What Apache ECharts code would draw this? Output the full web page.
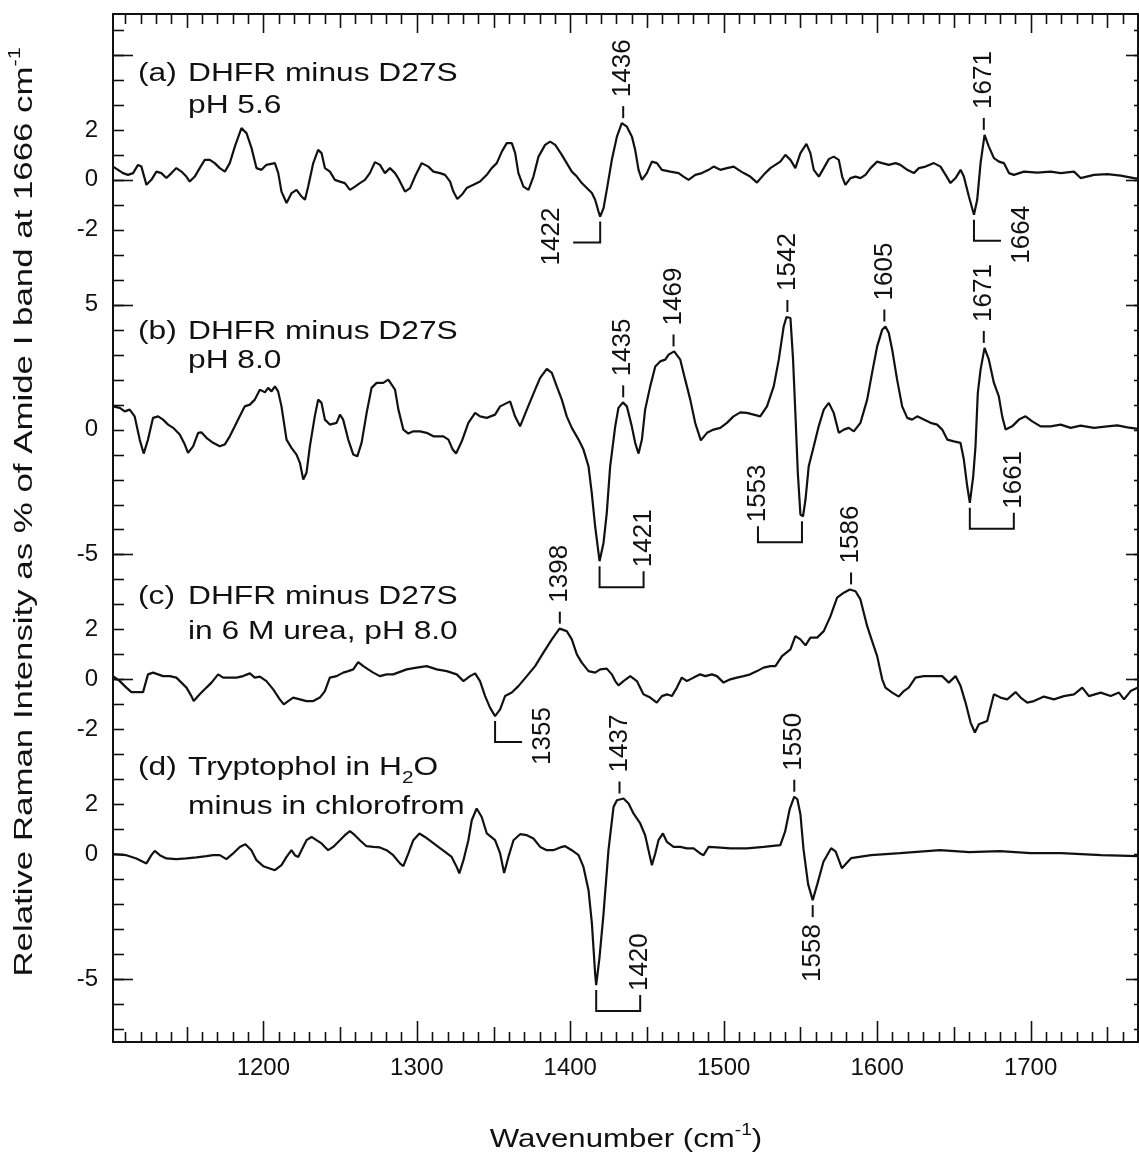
<!DOCTYPE html>
<html>
<head>
<meta charset="utf-8">
<script src="https://cdn.jsdelivr.net/npm/echarts@6/dist/echarts.min.js"></script>
<style>
  html, body { margin: 0; padding: 0; background: #fff; }
  #chart { width: 1139px; height: 1157px; }
</style>
</head>
<body>
<div id="chart"></div>
<script>
// difference spectra, [wavenumber, relative intensity]
const traceA = [
  [1102,0.53],[1105.3,0.4],[1108.5,0.27],[1111.8,0.2],[1115.1,0.27],[1118.3,0.6],[1120.5,0.53],[1123.8,-0.2],
  [1127,0],[1130.3,0.33],[1133.5,0.27],[1136.8,0.07],[1140.1,0.27],[1143.3,0.47],[1146.6,0.33],[1149.8,0.13],
  [1152,-0.07],[1155.3,0.13],[1158.5,0.47],[1161.8,0.8],[1165.1,0.8],[1168.3,0.67],[1171.6,0.47],[1174.9,0.33],
  [1178.1,0.67],[1181.4,1.33],[1185.7,2.07],[1189,1.87],[1192.3,1.27],[1195.5,0.47],[1198.8,0.4],[1202,0.6],
  [1207.5,0.67],[1209.7,0.27],[1211.8,-0.47],[1215.1,-0.93],[1218.4,-0.53],[1221.6,-0.4],[1224.9,-0.67],[1227.1,-0.8],
  [1229.2,-0.27],[1232.5,0.67],[1235.7,1.2],[1237.9,1.07],[1240.1,0.47],[1243.4,0.33],[1246.6,0],[1249.9,-0.07],
  [1253.1,-0.13],[1256.4,-0.4],[1259.7,-0.27],[1262.9,-0.13],[1266.2,0],[1269.4,0.27],[1272.7,0.71],[1276,0.6],
  [1279.2,0.27],[1282.5,0.47],[1285.8,0.27],[1288,0.05],[1292.3,-0.47],[1295.6,-0.33],[1298.8,0.13],[1303.2,0.67],
  [1307.5,0.53],[1310.8,0.33],[1315.1,0.27],[1318.4,0.2],[1321.7,-0.07],[1323.8,-0.47],[1326.4,-0.77],[1329.3,-0.6],
  [1332.5,-0.33],[1336.9,-0.2],[1341.2,-0.07],[1345.6,0.2],[1348.8,0.47],[1352.1,0.67],[1355.4,1.13],[1358.6,1.47],
  [1361.9,1.47],[1364.1,1.07],[1366.2,0.27],[1369.5,-0.27],[1372.8,-0.4],[1376,0.13],[1379.3,0.93],[1383.6,1.4],
  [1386.9,1.53],[1390.2,1.4],[1394.5,1],[1397.7,0.67],[1401,0.33],[1404.3,0.13],[1407.5,-0.13],[1410.8,-0.33],
  [1414.1,-0.53],[1416.2,-0.8],[1418.4,-1.27],[1419.5,-1.47],[1421.7,-1.13],[1423.8,-0.4],[1427.1,0.8],[1430.4,1.73],
  [1433.6,2.27],[1436.9,2.13],[1440.2,1.73],[1442.3,1.2],[1444.5,0.4],[1446.7,0],[1449.9,0.27],[1453.2,0.73],
  [1456.5,0.67],[1459.7,0.4],[1465.2,0.33],[1470.6,0.27],[1473.8,0.13],[1477.1,0],[1481.5,0.2],[1485.8,0.27],
  [1490.2,0.4],[1493.4,0.53],[1497.8,0.4],[1502.1,0.47],[1506.5,0.53],[1509.7,0.4],[1513,0.27],[1517.3,0.13],
  [1521.7,-0.11],[1526,0.2],[1530.4,0.47],[1536.9,0.73],[1540.2,1],[1543.5,0.8],[1546.7,0.47],[1550,1.07],
  [1553.9,1.44],[1556.5,1.07],[1558.7,0.4],[1562,0.13],[1565.2,0.47],[1568.5,0.83],[1571.7,0.93],[1575,0.8],
  [1577.2,0.13],[1579.3,-0.2],[1582.6,0.07],[1585.9,0.13],[1589.1,0.07],[1592.4,0.2],[1595.7,0.47],[1600,0.73],
  [1603.3,0.67],[1607.6,0.6],[1612,0.67],[1615.2,0.6],[1619.6,0.4],[1623.9,0.27],[1627.2,0.47],[1631.5,0.53],
  [1637,0.67],[1641.3,0.53],[1644.6,0.2],[1647.8,-0.13],[1651.1,0.07],[1654.4,0.4],[1656.5,0.13],[1659.8,-0.67],
  [1663.1,-1.4],[1665.2,-0.8],[1667.4,0.67],[1670,1.8],[1672.8,1.33],[1676.1,0.87],[1679.4,0.73],[1682.6,0.67],
  [1685.9,0.27],[1689.1,0.2],[1695.7,0.33],[1704.4,0.29],[1713.1,0.33],[1719.6,0.27],[1728.3,0.33],[1732.6,0.07],
  [1741.3,0.2],[1750,0.23],[1758.7,0.17],[1767.4,0.07],[1770,0.05]
];
const traceB = [
  [1102,0.93],[1106.4,0.87],[1109.6,0.73],[1112.9,0.8],[1116.1,0.53],[1119.4,-0.4],[1122,-0.96],[1124.8,-0.4],
  [1128.1,0.47],[1131.4,0.53],[1134.6,0.4],[1137.9,0.2],[1141.2,0.07],[1145.5,-0.2],[1148.8,-0.6],[1150.9,-0.93],
  [1154.2,-0.67],[1157.5,-0.13],[1159.6,-0.11],[1162.9,-0.33],[1167.2,-0.53],[1171.6,-0.67],[1174.8,-0.6],[1178.1,-0.27],
  [1181.4,0.13],[1184.6,0.53],[1187.9,0.93],[1191.2,1],[1194.4,1.2],[1197.7,1.6],[1201,1.49],[1203.1,1.67],
  [1205.3,1.53],[1207.5,1.73],[1209.6,1.53],[1211.8,0.93],[1215.1,-0.4],[1218.3,-0.73],[1221.6,-1],[1223.8,-1.33],
  [1226,-2],[1228.1,-1.73],[1230.3,-0.67],[1233.5,0.53],[1235.7,1.2],[1237.9,1.07],[1240.1,0.4],[1243.3,0.2],
  [1247.7,0.27],[1249.9,0.6],[1252,0.4],[1255.3,-0.4],[1258.6,-1],[1261.2,-1.07],[1264,-0.53],[1267.3,0.67],
  [1270.5,1.67],[1273.8,1.87],[1278.1,1.87],[1281.4,2],[1285.8,1.6],[1288,0.8],[1291.2,0],[1294.5,-0.16],
  [1297.7,-0.07],[1302.1,-0.07],[1306.4,-0.13],[1310.8,-0.27],[1317.3,-0.27],[1320.6,-0.4],[1323.4,-0.8],[1325.6,-0.96],
  [1329.3,-0.47],[1333.6,0.27],[1338,0.67],[1341.2,0.53],[1345.6,0.47],[1351,0.6],[1354.3,0.93],[1360.8,1.13],
  [1364,0.53],[1367.3,0.13],[1371.7,0.8],[1377.1,1.6],[1380.4,2.07],[1384.7,2.43],[1388,2.27],[1391.2,1.73],
  [1394.5,1.2],[1397.7,0.53],[1401,0.07],[1405.4,-0.4],[1408.6,-0.8],[1411.9,-1.47],[1414,-2.53],[1416.2,-3.87],
  [1419.1,-5.27],[1421.7,-4.53],[1423.8,-3.33],[1426,-1.47],[1429.3,0.13],[1431.4,0.87],[1434.3,1.09],[1436.9,0.93],
  [1440.1,0.13],[1442.3,-0.53],[1444.5,-0.96],[1446.7,-0.4],[1448.8,0.8],[1452.1,1.73],[1455.4,2.53],[1458.6,2.73],
  [1461.9,2.8],[1464.1,3],[1467.7,3.13],[1471.7,2.8],[1474.9,2],[1478.2,1.2],[1481.4,0.27],[1485.1,-0.43],
  [1489.1,-0.13],[1493.4,0],[1497.8,0.07],[1502.1,0.27],[1506.4,0.53],[1510.8,0.69],[1515.1,0.67],[1519.5,0.6],
  [1523.8,0.53],[1528.2,0.93],[1532.6,1.73],[1535.9,2.8],[1539.1,4.13],[1540.9,4.51],[1543.5,4.47],[1545.2,2.8],
  [1546.7,0.67],[1548.3,-1.73],[1550,-3.4],[1551.7,-3.47],[1553.3,-2.8],[1555.4,-1.47],[1558.7,-0.67],[1561.9,0.13],
  [1565.2,0.8],[1568.5,1.07],[1571.7,0.67],[1575,-0.13],[1578.3,0],[1581.5,0.07],[1584.8,-0.07],[1589.1,0.27],
  [1593.5,1.2],[1596.7,2.27],[1600,3.33],[1603.3,4],[1605.4,4.13],[1607.6,3.87],[1609.8,3.2],[1613,2],
  [1616.3,0.93],[1619.6,0.47],[1622.8,0.4],[1626.1,0.53],[1630.4,0.4],[1634.8,0.27],[1639.1,0.2],[1642.4,0],
  [1645.7,-0.4],[1650,-0.47],[1654.3,-0.53],[1656.5,-1.2],[1658.7,-2.27],[1660.4,-2.93],[1662.6,-1.87],[1664.1,-0.67],
  [1665.6,1.47],[1667.4,2.4],[1670,3.27],[1672.8,2.8],[1676.1,1.87],[1679.3,1.33],[1681.5,0.53],[1683.7,0],
  [1688,0.13],[1692.4,0.4],[1696.7,0.53],[1701.1,0.33],[1706.5,0.13],[1713,0.13],[1719.6,0.2],[1726.1,0.07],
  [1732.6,0.16],[1741.3,0.07],[1750,0.13],[1756.5,0.17],[1763.1,0.09],[1770,0.03]
];
const traceC = [
  [1102,0.13],[1106.4,-0.07],[1110.7,-0.33],[1114,-0.51],[1121.6,-0.51],[1124.8,0.2],[1128.1,0.27],[1131.4,0.2],
  [1134.6,0.13],[1139,0.13],[1143.3,0.07],[1146.6,-0.13],[1149.9,-0.33],[1153.1,-0.67],[1154.6,-0.87],[1158.5,-0.6],
  [1162.9,-0.33],[1166.2,-0.13],[1170.5,0.2],[1173.8,0.07],[1178.1,0.07],[1182.5,0.07],[1186.8,0.13],[1191.2,0.24],
  [1194.4,0.07],[1197.7,0.11],[1202,-0.07],[1206.4,-0.4],[1210.7,-0.8],[1213.3,-1],[1216.2,-0.87],[1219.4,-0.73],
  [1223.8,-0.8],[1228.1,-0.87],[1232.5,-0.87],[1236.8,-0.73],[1240.1,-0.47],[1243.3,0.07],[1247.7,0.13],[1252,0.27],
  [1255.3,0.33],[1258.6,0.4],[1261.8,0.69],[1265.1,0.53],[1268.3,0.4],[1271.6,0.27],[1275.9,0.13],[1280.3,0.2],
  [1284.6,0.2],[1293.4,0.4],[1299.9,0.47],[1306.4,0.53],[1313,0.4],[1319.5,0.33],[1326,0.2],[1330.4,-0.07],
  [1334.7,0.13],[1338,0.24],[1341.2,-0.07],[1344.5,-0.67],[1347.7,-1.13],[1351,-1.47],[1354.3,-1.2],[1357.5,-0.67],
  [1361.9,-0.53],[1366.2,-0.27],[1371.7,0.13],[1377.1,0.53],[1382.5,1.07],[1388,1.6],[1393,2.03],[1397.7,1.93],
  [1401,1.6],[1404.3,1],[1407.5,0.67],[1411.9,0.33],[1416.2,0.27],[1419.5,0.4],[1423.8,0.43],[1427.1,0.2],
  [1429.3,-0.07],[1431.4,-0.24],[1434.7,-0.07],[1439.1,0.13],[1443.4,-0.07],[1447.7,-0.6],[1452.1,-0.73],[1456.4,-0.93],
  [1459.7,-0.67],[1463,-0.6],[1466.2,-0.67],[1469.5,-0.33],[1472.7,0.07],[1476,-0.07],[1480.4,0.07],[1484.7,0.2],
  [1488,0.13],[1492.3,0.2],[1495.6,0.13],[1499.9,-0.13],[1504.3,0],[1508.6,0.07],[1513,0.13],[1517.3,0.2],
  [1521.7,0.33],[1526,0.47],[1530.4,0.53],[1533.7,0.53],[1538,0.93],[1543.5,1.2],[1546.7,1.73],[1550,1.6],
  [1553.3,1.36],[1556.5,1.67],[1560.9,1.67],[1565.2,1.93],[1569.6,2.53],[1573.9,3.27],[1578.3,3.47],[1582.2,3.6],
  [1585.9,3.53],[1589.1,3.2],[1593.5,2.13],[1597.8,1.33],[1600,0.93],[1603.3,0],[1605.4,-0.33],[1609.8,-0.53],
  [1614.1,-0.69],[1617.4,-0.47],[1620.6,-0.33],[1625,0.07],[1630.4,0.13],[1637,0.13],[1642.4,0.13],[1646.7,-0.13],
  [1651.1,0.13],[1654.4,-0.27],[1657.6,-0.93],[1660.9,-1.73],[1663.7,-2.13],[1666.3,-1.8],[1671.7,-1.67],[1676.1,-0.6],
  [1680.4,-0.73],[1684.8,-0.8],[1690.2,-0.51],[1693.5,-0.73],[1697.8,-0.93],[1702.2,-0.87],[1708.7,-0.69],[1715.2,-0.8],
  [1721.7,-0.67],[1728.3,-0.6],[1733.7,-0.33],[1738,-0.67],[1745.7,-0.53],[1752.2,-0.67],[1757.6,-0.53],[1760.9,-0.8],
  [1765.2,-0.47],[1770,-0.33]
];
const traceD = [
  [1102,0],[1110.7,-0.04],[1117.2,-0.17],[1123.8,-0.37],[1127,-0.04],[1129.2,0.13],[1132.5,-0.04],[1136.8,-0.17],
  [1143.3,-0.2],[1149.9,-0.17],[1156.4,-0.13],[1162.9,-0.08],[1167.2,-0.04],[1171.6,-0.04],[1175.9,-0.2],[1180.3,0.03],
  [1184.6,0.29],[1188.3,0.4],[1192.2,0.16],[1195.5,-0.24],[1199.9,-0.48],[1204.2,-0.57],[1207.5,-0.64],[1211.8,-0.44],
  [1215.1,-0.11],[1218.3,0.16],[1220.5,-0.04],[1222.7,-0.11],[1225.9,0.29],[1228.1,0.56],[1231.4,0.69],[1234.6,0.56],
  [1237.9,0.43],[1242.2,0.16],[1245.5,0.29],[1249.9,0.56],[1253.1,0.76],[1256.4,0.92],[1259.6,0.76],[1262.9,0.56],
  [1267.2,0.32],[1271.6,0.29],[1275.9,0.27],[1280.3,0.16],[1284.6,-0.04],[1289,-0.37],[1291.2,-0.48],[1294.5,0.03],
  [1297.7,0.56],[1301.7,0.83],[1305.3,0.69],[1309.7,0.49],[1314,0.29],[1318.4,0.09],[1322.7,-0.11],[1326,-0.51],
  [1327.7,-0.77],[1330.4,-0.24],[1333.6,0.56],[1335.8,1.36],[1339,1.83],[1342.3,1.49],[1345.6,0.83],[1351,0.56],
  [1354.3,0.03],[1356.9,-0.75],[1359.7,-0.11],[1363,0.56],[1367.3,0.8],[1371.7,0.76],[1376,0.63],[1380.4,0.29],
  [1384.7,0.16],[1389,0.16],[1393.4,0.27],[1396.7,0.32],[1401,0.16],[1405.4,-0.04],[1408.6,-0.51],[1411.9,-1.44],
  [1414.1,-2.77],[1416.2,-4.77],[1416.9,-5.24],[1419.1,-4.11],[1421.7,-2.37],[1424.9,0.16],[1428.2,1.89],[1430.4,2.16],
  [1434.7,2.23],[1438,2.03],[1441.2,1.63],[1445.6,1.23],[1448.8,0.76],[1451,0.16],[1453.2,-0.44],[1455.4,0.03],
  [1457.5,0.56],[1460.4,0.83],[1463,0.49],[1467.3,0.29],[1471.7,0.29],[1476,0.23],[1480.4,0.23],[1484.7,0.03],
  [1486.9,-0.04],[1490.1,0.29],[1495.6,0.27],[1504.3,0.23],[1515.1,0.23],[1526,0.29],[1536.9,0.36],[1540,0.9],
  [1543,1.8],[1546,2.3],[1548,2.2],[1550,1.6],[1552,0.2],[1555,-1.2],[1558,-1.84],[1561,-1.2],
  [1565,-0.3],[1570,0.24],[1573,0.1],[1577,-0.56],[1583,-0.16],[1596,-0.04],[1615,0.04],[1641,0.16],
  [1660,0.08],[1680,0.12],[1700,0.04],[1720,0.04],[1746,-0.04],[1770,-0.08]
];
const traces = [traceA, traceB, traceC, traceD];
// zero line of each spectrum on the shared intensity axis
const traceBase = [27, 17, 7, 0];

const xMin = 1102, xMax = 1770;
const yMin = -7.52, yMax = 33.64;
const xMajor = [1200, 1300, 1400, 1500, 1600, 1700];
const yTickLabels = [[29,'2'],[27,'0'],[25,'-2'],[22,'5'],[17,'0'],[12,'-5'],[9,'2'],[7,'0'],[5,'-2'],[2,'2'],[0,'0'],[-5,'-5']];
const yLong = [32, 27, 22, 12, 7, -5];

// band labels above maxima: [spectrum, wavenumber, intensity, text]
const peakMarks = [
  [0,1434.5,2.27,'1436'],[0,1669.5,1.8,'1671'],
  [1,1434.5,1.09,'1435'],[1,1467.3,3.13,'1469'],[1,1541.5,4.51,'1542'],[1,1604.7,4.13,'1605'],[1,1669.5,3.27,'1671'],
  [2,1393.2,2.03,'1398'],[2,1583,3.6,'1586'],
  [3,1432.1,2.23,'1437'],[3,1546,2.3,'1550']
];
// band labels under minima: [spectrum, wavenumber, intensity, text, side, kind]
const troughMarks = [
  [0,1419.5,-1.47,'1422',-1,'side'],[0,1663.1,-1.4,'1664',1,'side'],
  [1,1419.1,-5.27,'1421',1,'up'],[1,1551,-3.47,'1553',-1,'up'],[1,1660.4,-2.93,'1661',1,'up'],
  [2,1351,-1.47,'1355',1,'side'],
  [3,1416.9,-5.24,'1420',1,'up'],[3,1558,-1.84,'1558',0,'below']
];

const FONT = '"Liberation Sans", Arial, Helvetica, sans-serif';
const INK = '#111';

const xMid = [], xMinor = [];
for (let w = 1110; w < xMax; w += 10) {
  if (w % 100 === 0) continue;
  if (w % 50 === 0) xMid.push(w); else xMinor.push(w);
}
const yTicks = [];
for (let v = -7; v <= 33; v++) yTicks.push(v);
const yLabelMap = new Map(yTickLabels);

const lineSeries = traces.map((t, i) => ({
  type: 'line',
  data: t.map(p => [p[0], p[1] + traceBase[i]]),
  showSymbol: false,
  lineStyle: { color: INK, width: 2.2 },
  silent: true,
  z: 3
}));

// tick marks drawn on both opposite frame edges
function xTickSeries(vals, lenBottom, lenTop) {
  return {
    type: 'custom', data: vals.map(v => [v, yMin]), encode: { x: 0, y: 1 },
    clip: false, silent: true, z: 6,
    renderItem: (params, api) => {
      const cs = params.coordSys;
      const x = Math.round(api.coord([api.value(0), yMin])[0]) + 0.5;
      const st = { stroke: INK, lineWidth: 1.6 };
      return { type: 'group', children: [
        { type: 'line', shape: { x1: x, y1: cs.y + cs.height, x2: x, y2: cs.y + cs.height - lenBottom }, style: st },
        { type: 'line', shape: { x1: x, y1: cs.y, x2: x, y2: cs.y + lenTop }, style: st }
      ] };
    }
  };
}
function yTickSeries(vals, lenLeft, lenRight) {
  return {
    type: 'custom', data: vals.map(v => [xMin, v]), encode: { x: 0, y: 1 },
    clip: false, silent: true, z: 6,
    renderItem: (params, api) => {
      const cs = params.coordSys;
      const y = Math.round(api.coord([xMin, api.value(1)])[1]) + 0.5;
      const st = { stroke: INK, lineWidth: 1.6 };
      return { type: 'group', children: [
        { type: 'line', shape: { x1: cs.x, y1: y, x2: cs.x + lenLeft, y2: y }, style: st },
        { type: 'line', shape: { x1: cs.x + cs.width, y1: y, x2: cs.x + cs.width - lenRight, y2: y }, style: st }
      ] };
    }
  };
}

const numFont = '26px ' + FONT;

const peakSeries = {
  type: 'custom',
  data: peakMarks.map(p => [p[1], p[2] + traceBase[p[0]]]),
  encode: { x: 0, y: 1 },
  clip: false, silent: true, z: 5,
  renderItem: (params, api) => {
    const pt = api.coord([api.value(0), api.value(1)]);
    const x = pt[0], y = pt[1];
    return {
      type: 'group',
      children: [
        { type: 'line', shape: { x1: x, y1: y - 5, x2: x, y2: y - 17 }, style: { stroke: INK, lineWidth: 2 } },
        { type: 'text', x: x, y: y - 26, rotation: Math.PI / 2,
          style: { text: peakMarks[params.dataIndex][3], font: numFont, fill: INK, align: 'left', verticalAlign: 'middle' } }
      ]
    };
  }
};

const troughSeries = {
  type: 'custom',
  data: troughMarks.map(p => [p[1], p[2] + traceBase[p[0]]]),
  encode: { x: 0, y: 1 },
  clip: false, silent: true, z: 5,
  renderItem: (params, api) => {
    const m = troughMarks[params.dataIndex];
    const pt = api.coord([api.value(0), api.value(1)]);
    const x = pt[0], y = pt[1], dir = m[4], kind = m[5];
    const ln = { stroke: INK, lineWidth: 2, fill: null };
    if (kind === 'below') {
      return {
        type: 'group',
        children: [
          { type: 'line', shape: { x1: x, y1: y + 5, x2: x, y2: y + 17 }, style: ln },
          { type: 'text', x: x, y: y + 24, rotation: Math.PI / 2,
            style: { text: m[3], font: numFont, fill: INK, align: 'right', verticalAlign: 'middle' } }
        ]
      };
    }
    const yl = y + 26;
    if (kind === 'side') {
      const xe = x + dir * 27;
      return {
        type: 'group',
        children: [
          { type: 'polyline', shape: { points: [[x, y + 5], [x, yl], [xe, yl]] }, style: ln },
          { type: 'text', x: xe + dir * 21, y: yl - 6, rotation: Math.PI / 2,
            style: { text: m[3], font: numFont, fill: INK, align: 'center', verticalAlign: 'middle' } }
        ]
      };
    }
    const xe = x + dir * 44;
    return {
      type: 'group',
      children: [
        { type: 'polyline', shape: { points: [[x, y + 5], [x, yl], [xe, yl], [xe, yl - 16]] }, style: ln },
        { type: 'text', x: xe, y: yl - 20, rotation: Math.PI / 2,
          style: { text: m[3], font: numFont, fill: INK, align: 'left', verticalAlign: 'middle' } }
      ]
    };
  }
};

const wordFont = '26px ' + FONT;
const SX = 1.22;
function word(x, y, text, rich) {
  return { type: 'text', x: x, y: y, scaleX: SX, silent: true,
    style: { text: text, font: wordFont, fill: INK, align: 'left', verticalAlign: 'middle', rich: rich } };
}
const subRich = { sub: { fontSize: 17, fontFamily: FONT, fill: INK, verticalAlign: 'bottom', padding: [0, 0, -6, 0] } };
const supRich = { sup: { fontSize: 16, fontFamily: FONT, fill: INK, verticalAlign: 'top', padding: [-4, 0, 0, 0] } };

const panelText = [
  word(138, 74, '(a)'), word(188, 74, 'DHFR minus D27S'), word(188, 106, 'pH 5.6'),
  word(138, 332, '(b)'), word(188, 332, 'DHFR minus D27S'), word(188, 361, 'pH 8.0'),
  word(138, 597, '(c)'), word(188, 597, 'DHFR minus D27S'), word(188, 632, 'in 6 M urea, pH 8.0'),
  word(138, 768, '(d)'), word(188, 768, 'Tryptophol in H{sub|2}O', subRich), word(188, 807, 'minus in chlorofrom'),
  { type: 'text', x: 25, y: 512, rotation: Math.PI / 2, scaleX: 1.34, silent: true,
    style: { text: 'Relative Raman Intensity as % of Amide I band at 1666 cm{sup|-1}', font: wordFont, fill: INK,
      align: 'center', verticalAlign: 'middle', rich: supRich } },
  { type: 'text', x: 626, y: 1140, scaleX: 1.2, silent: true,
    style: { text: 'Wavenumber (cm{sup|-1})', font: wordFont, fill: INK, align: 'center', verticalAlign: 'middle', rich: supRich } }
];

const frameLine = { show: true, onZero: false, lineStyle: { color: INK, width: 2 } };

const chart = echarts.init(document.getElementById('chart'), null, { renderer: 'canvas' });
chart.setOption({
  animation: false,
  backgroundColor: '#fff',
  grid: { left: 113, right: 1, top: 14, bottom: 115, containLabel: false },
  xAxis: [
    { type: 'value', min: xMin, max: xMax, position: 'bottom', axisLine: frameLine, axisTick: { show: false },
      axisLabel: { customValues: xMajor, color: INK, fontSize: 24, fontFamily: FONT, margin: 14, formatter: v => String(v) },
      splitLine: { show: false } },
    { type: 'value', min: xMin, max: xMax, position: 'top', axisLine: frameLine, axisTick: { show: false },
      axisLabel: { show: false }, splitLine: { show: false } }
  ],
  yAxis: [
    { type: 'value', min: yMin, max: yMax, position: 'left', axisLine: frameLine, axisTick: { show: false },
      axisLabel: { customValues: yTickLabels.map(d => d[0]), color: INK, fontSize: 24, fontFamily: FONT, margin: 15,
        formatter: v => yLabelMap.get(Math.round(v)) || '' },
      splitLine: { show: false } },
    { type: 'value', min: yMin, max: yMax, position: 'right', axisLine: frameLine, axisTick: { show: false },
      axisLabel: { show: false }, splitLine: { show: false } }
  ],
  series: lineSeries.concat([
    xTickSeries(xMinor, 10, 10),
    xTickSeries(xMid, 15, 14),
    xTickSeries(xMajor, 21, 19),
    yTickSeries(yTicks, 11, 4),
    yTickSeries(yLong, 20, 12),
    peakSeries, troughSeries
  ]),
  graphic: panelText
});
</script>
</body>
</html>
